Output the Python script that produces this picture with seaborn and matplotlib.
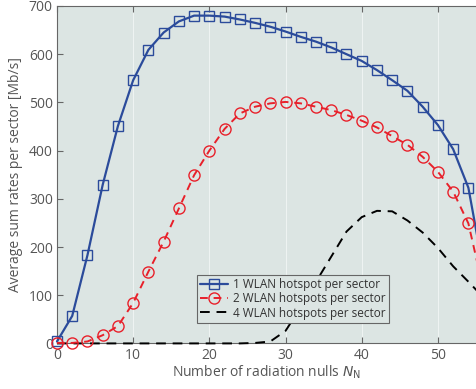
import matplotlib
matplotlib.use('Agg')
import matplotlib.pyplot as plt
import seaborn as sns
import pandas as pd
import numpy as np

# number of radiation nulls (even values)
n_nulls = [0, 2, 4, 6, 8, 10, 12, 14, 16, 18, 20, 22, 24, 26, 28,
           30, 32, 34, 36, 38, 40, 42, 44, 46, 48, 50, 52, 54, 56]
one_hotspot = [4, 57, 183, 329, 451, 546, 609, 645, 668, 680, 680, 678, 672, 665, 657,
               647, 636, 626, 614, 600, 586, 567, 546, 524, 491, 453, 403, 323, 150]
two_hotspots = [1, 1, 4, 17, 36, 84, 149, 211, 280, 349, 400, 445, 477, 491, 498,
                501, 498, 491, 484, 474, 462, 448, 430, 412, 387, 356, 315, 249, 110]
four_hotspots = [0, 0, 0, 0, 0, 0, 0, 0, 0, 0, 0, 0, 0, 1, 4,
                 26, 75, 128, 180, 232, 262, 275, 274, 255, 230, 198, 160, 128, 95]

series_labels = ['1 WLAN hotspot per sector',
                 '2 WLAN hotspots per sector',
                 '4 WLAN hotspots per sector']

bg = '#dce5e3'
txt = '#555555'
sns.set_style('ticks', {'axes.facecolor': bg, 'axes.edgecolor': '#666666'})
plt.rcParams['font.family'] = ['Open Sans', 'DejaVu Sans']
plt.rcParams['mathtext.fontset'] = 'dejavusans'

fig = plt.figure(figsize=(4.76, 3.89), dpi=100)
ax = fig.add_axes([0.1197, 0.1172, 0.8803, 0.8674])

df = pd.DataFrame({'N': n_nulls, 'one': one_hotspot, 'two': two_hotspots, 'four': four_hotspots})

sns.lineplot(data=df, x='N', y='four', ax=ax, color='black', lw=1.4,
             label=series_labels[2], clip_on=False, zorder=3)
ax.lines[-1].set_dashes([5, 3.5])
sns.lineplot(data=df, x='N', y='one', ax=ax, color='#2b4b9b', lw=1.6,
             marker='s', markersize=7, markerfacecolor='none', markeredgecolor='#2b4b9b',
             markeredgewidth=1.0, label=series_labels[0], clip_on=False, zorder=4)
sns.lineplot(data=df, x='N', y='two', ax=ax, color='#e8202a', lw=1.4,
             marker='o', markersize=8, markerfacecolor='none', markeredgecolor='#e8202a',
             markeredgewidth=1.0, label=series_labels[1], clip_on=False, zorder=4)
ax.lines[-1].set_dashes([4, 3])

ax.set_xlim(0, 55)
ax.set_ylim(0, 700)
ax.set_xticks([0, 10, 20, 30, 40, 50])
ax.set_yticks(np.arange(0, 701, 100))
ax.grid(axis='x', color='#eef3f2', lw=0.8)
ax.tick_params(direction='in', top=True, right=False, colors='#666666', labelcolor=txt,
               labelsize=10, length=4, pad=3)
for s in ['top', 'left', 'bottom']:
    ax.spines[s].set_color('#666666')
ax.spines['right'].set_visible(False)

ax.set_xlabel(r'Number of radiation nulls $N_{\rm N}$', fontsize=10, color=txt, labelpad=1)
ax.set_ylabel('Average sum rates per sector [Mb/s]', fontsize=10, color=txt, labelpad=4)

handles, labels = ax.get_legend_handles_labels()
order = [labels.index(l) for l in series_labels]
leg = ax.legend([handles[i] for i in order], [labels[i] for i in order],
                loc='lower left', bbox_to_anchor=(0.333, 0.06), fontsize=8.5,
                frameon=True, fancybox=False, framealpha=1, edgecolor='#666666',
                borderpad=0.3, labelspacing=0.1, handlelength=2.4, handletextpad=0.4,
                borderaxespad=0)
leg.get_frame().set_facecolor(bg)
leg.get_frame().set_linewidth(0.8)
leg.set_zorder(5)
for t in leg.get_texts():
    t.set_color('#333333')

plt.savefig('out.png', dpi=100, facecolor='white')
plt.close(fig)
